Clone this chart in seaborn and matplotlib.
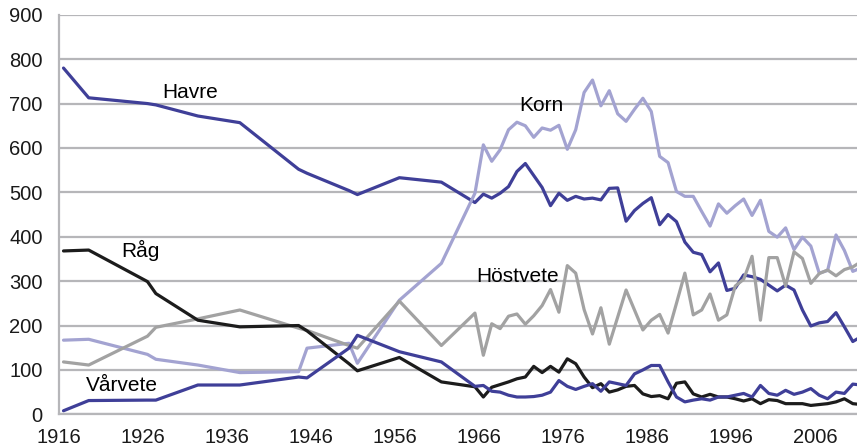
import matplotlib
matplotlib.use("Agg")
import numpy as np
import pandas as pd
import matplotlib.pyplot as plt
import seaborn as sns

# --- data, 1000-tal hektar ---
years = [1916, 1919, 1926, 1927, 1932, 1937, 1944, 1945, 1950, 1951, 1956, 1961] + list(range(1965, 2012))

havre = [780, 713, 700, 697, 672, 657, 552, 543, 504, 495, 533, 523,
         477, 496, 487, 498, 513, 547, 565, 538, 511, 470, 498, 482, 491, 485, 487, 483,
         509, 510, 435, 459, 475, 488, 427,
         450, 434, 388, 365, 360, 321, 341, 279, 284, 314, 310, 304, 291, 278, 291, 280,
         235, 199, 206, 209, 229, 197, 164, 175]

korn = [167, 169, 135, 124, 111, 94, 96, 149, 160, 115, 257, 340,
        498, 607, 570, 596, 641, 658, 650, 624, 645, 640, 651, 597, 641, 725, 753, 695,
        729, 677, 660, 687, 712, 682, 581,
        567, 502, 491, 491, 457, 424, 474, 453, 470, 485, 448, 482, 412, 399, 420, 371,
        399, 379, 318, 324, 404, 369, 322, 330]

rag = [368, 370, 299, 272, 212, 197, 200, 188, 114, 98, 128, 73,
       62, 39, 61, 67, 73, 80, 84, 108, 94, 108, 95, 125, 114, 84, 60, 69,
       50, 55, 63, 65, 46, 40, 42,
       35, 70, 73, 46, 39, 45, 39, 39, 35, 30, 35, 24, 33, 31, 24, 24,
       24, 20, 22, 24, 28, 35, 24, 22]

hostvete = [118, 111, 176, 196, 215, 235, 194, 189, 155, 149, 255, 155,
            228, 133, 204, 193, 221, 226, 203, 222, 245, 281, 230, 335, 318, 236, 181, 240,
            158, 219, 280, 235, 190, 212, 225,
            183, 250, 318, 224, 235, 271, 212, 224, 289, 304, 356, 212, 353, 353, 289, 366,
            351, 295, 317, 325, 312, 326, 332, 344]

varvete = [8, 31, 32, 32, 66, 66, 84, 82, 149, 178, 141, 118,
           63, 65, 52, 50, 43, 39, 39, 40, 43, 50, 76, 63, 56, 63, 69, 52,
           73, 69, 65, 91, 100, 110, 110,
           73, 39, 28, 32, 35, 32, 39, 39, 43, 47, 39, 65, 47, 43, 54, 45,
           50, 58, 43, 35, 50, 47, 68, 66]

series_names = ["Havre", "Korn", "Höstvete", "Råg", "Vårvete"]
series_values = [havre, korn, hostvete, rag, varvete]
colors = {"Havre": "#3f3f98", "Korn": "#a3a3d1", "Höstvete": "#a2a2a2",
          "Råg": "#1c1c1c", "Vårvete": "#3f3f98"}

# label positions (axis coords: year, value)
label_pos = {"Havre": (1931.6, 726), "Korn": (1973.4, 695), "Råg": (1925.7, 370),
             "Höstvete": (1970.6, 311), "Vårvete": (1923.4, 64)}

frames = []
for name, vals in zip(series_names, series_values):
    frames.append(pd.DataFrame({"year": years, "value": vals, "serie": name}))
df = pd.concat(frames, ignore_index=True)
df["x"] = df["year"] + 0.5  # points sit mid-year between the ticks

# --- plot ---
sns.set_style("white")
plt.rcParams["font.family"] = ["Liberation Sans", "DejaVu Sans"]

fig = plt.figure(figsize=(8.57, 4.48), dpi=100)
ax = fig.add_axes([0.0692, 0.0752, 0.9308, 0.8918])

grid_col = "#b6b6b9"
for name in series_names:
    sns.lineplot(data=df[df["serie"] == name], x="x", y="value", color=colors[name],
                 linewidth=2.3, ax=ax, sort=False, estimator=None, legend=False)

for name, (lx, ly) in label_pos.items():
    ax.text(lx, ly, name, ha="center", va="center", fontsize=15, color="black")

ax.set_xlim(1916, 2010.97)
ax.set_ylim(0, 900)
ax.set_yticks(np.arange(0, 901, 100))
ax.set_xticks(np.arange(1916, 2007, 10))
ax.set_xticks(np.arange(1921, 2012, 5), minor=True)
ax.yaxis.grid(True, color=grid_col, linewidth=1.6)
ax.set_axisbelow(True)

for side in ["top", "right"]:
    ax.spines[side].set_visible(False)
for side in ["left", "bottom"]:
    ax.spines[side].set_color(grid_col)
    ax.spines[side].set_linewidth(1.6)

ax.tick_params(axis="y", length=0, pad=12, labelsize=14.5, labelcolor="#1a1a1a")
ax.tick_params(axis="x", which="both", direction="out", length=5, width=1.4,
               color=grid_col, pad=5, labelsize=14.5, labelcolor="#1a1a1a")
ax.set_xlabel("")
ax.set_ylabel("")

fig.savefig("out.png", dpi=100)
